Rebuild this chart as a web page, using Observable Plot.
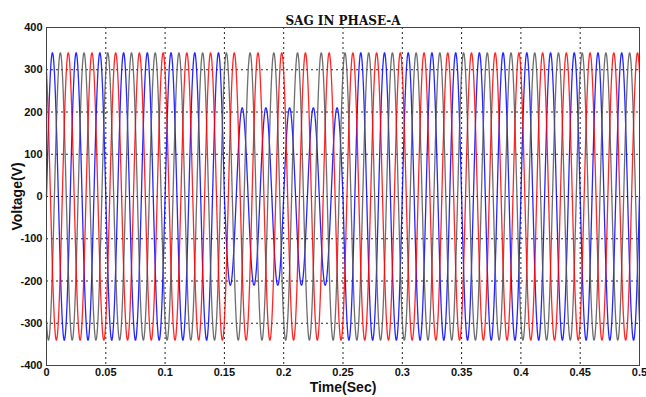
<!DOCTYPE html>
<html>
<head>
<meta charset="utf-8">
<script src="https://cdn.jsdelivr.net/npm/d3@7"></script>
<script src="https://cdn.jsdelivr.net/npm/@observablehq/plot@0.6"></script>
<style>
  html, body { margin: 0; padding: 0; background: #fff; }
  #chart svg { display: block; }
  #chart [aria-label="x-axis tick label"] text,
  #chart [aria-label="y-axis tick label"] text { font-weight: bold; font-size: 11px; font-family: Arial, "Liberation Sans", sans-serif; fill: #111; }
  #chart [aria-label="x-axis label"] text { font-weight: bold; font-size: 14px; font-family: Arial, "Liberation Sans", sans-serif; fill: #111; }
  #chart [aria-label="y-axis label"] text { font-weight: bold; font-size: 14px; font-family: Arial, "Liberation Sans", sans-serif; fill: #111; }
</style>
</head>
<body>
<div id="chart"></div>
<script>
// Phase definitions
const phaseNames = ["Phase A", "Phase B", "Phase C"];
const phaseShiftDeg = [0, -120, 120];
const phaseColors = ["#0000ff", "#555555", "#ff0000"];
const amplitudes = [340, 340, 340];     // normal peak voltage (V)
const sagAmplitudes = [210, 340, 340];  // peak during the sag (V)
const sagWindow = [0.15, 0.25];         // s
const frequencyHz = 50;
const timeRange = [0, 0.5];
const sampleStep = 0.0001;

const xTicks = [0, 0.05, 0.1, 0.15, 0.2, 0.25, 0.3, 0.35, 0.4, 0.45, 0.5];
const yTicks = [-400, -300, -200, -100, 0, 100, 200, 300, 400];

const times = d3.range(timeRange[0], timeRange[1] + sampleStep / 2, sampleStep);
const rows = [];
phaseNames.forEach((name, i) => {
  times.forEach(t => {
    const inSag = t >= sagWindow[0] && t <= sagWindow[1];
    const amp = inSag ? sagAmplitudes[i] : amplitudes[i];
    rows.push({
      phase: name,
      t,
      v: amp * Math.sin(2 * Math.PI * frequencyHz * t + phaseShiftDeg[i] * Math.PI / 180)
    });
  });
});

const chart = Plot.plot({
  width: 646,
  height: 397,
  marginLeft: 46,
  marginRight: 7,
  marginTop: 27,
  marginBottom: 32,
  style: { fontFamily: "Arial, 'Liberation Sans', sans-serif", background: "#fff" },
  x: { domain: timeRange, ticks: xTicks },
  y: { domain: [-400, 400], ticks: yTicks },
  color: { domain: phaseNames, range: phaseColors },
  marks: [
    Plot.gridX(xTicks, { stroke: "#000", strokeOpacity: 0.85, strokeDasharray: "2,3", strokeWidth: 1 }),
    Plot.gridY(yTicks, { stroke: "#000", strokeOpacity: 0.85, strokeDasharray: "2,3", strokeWidth: 1 }),
    Plot.line(rows, { x: "t", y: "v", z: "phase", stroke: "phase", strokeWidth: 1.3, strokeOpacity: 0.85 }),
    Plot.frame({ stroke: "#444", strokeWidth: 1 }),
    Plot.axisX(xTicks, { tickSize: 0, tickPadding: 3, tickFormat: d => String(d), label: "Time(Sec)", labelAnchor: "center", labelArrow: "none", labelOffset: 26 }),
    Plot.axisY(yTicks, { tickSize: 0, tickPadding: 4, tickFormat: d => String(d), label: "Voltage(V)", labelAnchor: "center", labelArrow: "none", labelOffset: 34 }),
    Plot.text(["SAG IN PHASE-A"], { frameAnchor: "top", dy: -11.5, fontWeight: "bold", fontSize: 12, fontFamily: "'DejaVu Serif', 'Liberation Serif', serif", letterSpacing: "0.6px", fill: "#111" })
  ]
});
document.getElementById("chart").appendChild(chart);
</script>
</body>
</html>
